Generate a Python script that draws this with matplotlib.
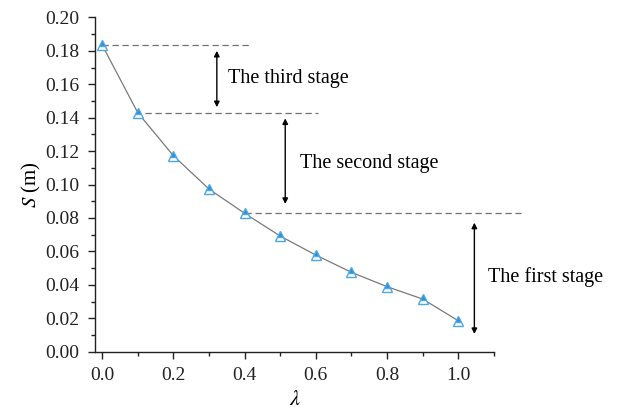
import numpy as np
import matplotlib.pyplot as plt
from matplotlib.ticker import MultipleLocator

plt.rcParams['font.family'] = ['Liberation Serif', 'DejaVu Serif']
plt.rcParams['mathtext.fontset'] = 'stix'

# data
lam = [0.0, 0.1, 0.2, 0.3, 0.4, 0.5, 0.6, 0.7, 0.8, 0.9, 1.0]
S = [0.1835, 0.143, 0.1173, 0.0973, 0.0828, 0.0692, 0.0578, 0.0475, 0.0389, 0.0315, 0.0185]

stage_labels = ["The third stage", "The second stage", "The first stage"]

fig = plt.figure(figsize=(6.19, 4.15), dpi=100)
ax = fig.add_axes([0.1535, 0.1525, 0.6445, 0.8055])

ax.plot(lam, S, color='#7a7a7a', lw=0.9, marker='^', ms=7,
        fillstyle='top', markerfacecolor='#2e8bd6', markerfacecoloralt='white',
        markeredgecolor='#4aa8e6', markeredgewidth=1.0, zorder=3)

# dashed guide lines at stage boundaries
dash = dict(color='#707070', lw=0.9, ls=(0, (5, 3)), clip_on=False)
ax.plot([0.0, 0.42], [S[0], S[0]], **dash)
ax.plot([0.12, 0.605], [S[1], S[1]], **dash)
ax.plot([0.4, 1.175], [S[4], S[4]], **dash)

# double arrows
arr = dict(arrowstyle='<|-|>', color='black', lw=1.0, mutation_scale=8,
           shrinkA=0, shrinkB=0)
ax.annotate('', xy=(0.322, 0.1463), xytext=(0.322, 0.1800), arrowprops=arr)
ax.annotate('', xy=(0.514, 0.0884), xytext=(0.514, 0.1396), arrowprops=arr)
ax.annotate('', xy=(1.045, 0.0106), xytext=(1.045, 0.0772), arrowprops=arr,
            annotation_clip=False)

ax.text(0.354, 0.1637, stage_labels[0], fontsize=14.5, va='center', ha='left')
ax.text(0.556, 0.1129, stage_labels[1], fontsize=14.5, va='center', ha='left')
ax.text(1.084, 0.0447, stage_labels[2], fontsize=14.5, va='center', ha='left',
        clip_on=False)

ax.set_xlim(-0.02, 1.1)
ax.set_ylim(0, 0.2)
ax.xaxis.set_major_locator(MultipleLocator(0.2))
ax.xaxis.set_minor_locator(MultipleLocator(0.1))
ax.yaxis.set_major_locator(MultipleLocator(0.02))
ax.yaxis.set_minor_locator(MultipleLocator(0.01))
ax.xaxis.set_major_formatter(plt.FormatStrFormatter('%.1f'))
ax.yaxis.set_major_formatter(plt.FormatStrFormatter('%.2f'))

for s in ['top', 'right']:
    ax.spines[s].set_visible(False)
for s in ['left', 'bottom']:
    ax.spines[s].set_color('#222222')
    ax.spines[s].set_linewidth(1.0)

ax.tick_params(which='major', direction='out', length=5, width=1.0,
               labelsize=14, colors='#222222', pad=6)
ax.tick_params(which='minor', direction='out', length=3, width=1.0,
               colors='#222222')

ax.set_xlabel(r'$\lambda$', fontsize=16, labelpad=5)
ax.set_ylabel(r'$S$ (m)', fontsize=15, labelpad=2)

fig.savefig('out.png', dpi=100)
